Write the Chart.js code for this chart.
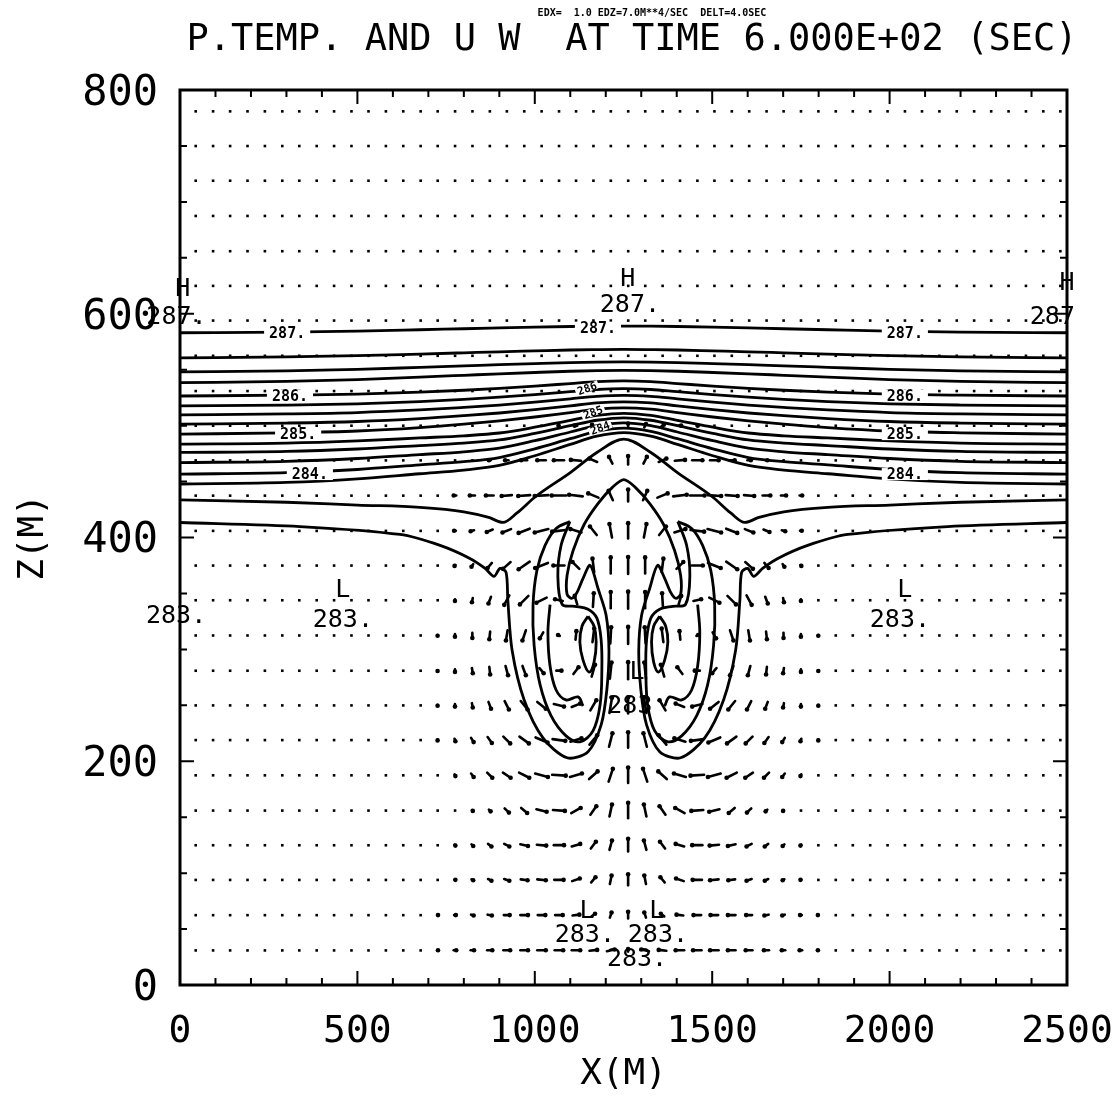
<!DOCTYPE html>
<html>
<head>
<meta charset="utf-8">
<script src="https://cdn.jsdelivr.net/npm/chart.js@4.4.1/dist/chart.umd.min.js"></script>
<style>
  html, body { margin: 0; padding: 0; background: #fff; }
  canvas { display: block; }
</style>
</head>
<body>
<canvas id="plot" width="1118" height="1102"></canvas>
<script>
// ---- AXES / TICKS ----
const xTicks = [0, 500, 1000, 1500, 2000, 2500];
const zTicks = [0, 200, 400, 600, 800];
const xMinorTicks = [100,200,300,400,600,700,800,900,1100,1200,1300,1400,1600,1700,1800,1900,2100,2200,2300,2400];
const zMinorTicks = [50,100,150,250,300,350,450,500,550,650,700,750];

// ---- VELOCITY GRID (U, W) ----
const xGrid = [44,93,141,190,239,288,336,385,434,483,531,580,629,678,726,775,824,873,921,970,1019,1068,1116,1165,1214,1263,1311,1360,1409,1458,1506,1555,1604,1653,1701,1750,1799,1848,1896,1945,1994,2043,2091,2140,2189,2238,2286,2335,2384,2433,2481];
const zGrid = [31,62.5,94,125,156,187.5,219,250,281,312.5,344,375,406,437.5,469,500,531,562.5,594,625,656,687.5,719,750,781];
// arrows read for columns 678..1848, rows 31..500
const arrowX = [678,726,775,824,873,921,970,1019,1068,1116,1165,1214,1263,1311,1360,1409,1458,1506,1555,1604,1653,1701,1750,1799,1848];
const arrowZ = [31,62.5,94,125,156,187.5,219,250,281,312.5,344,375,406,437.5,469,500];
const uRows = [
  [0,0.1,0.3,0.4,0.6,0.8,0.9,1,1,1,0.9,0.9,0,-0.9,-0.9,-1,-1,-1,-0.9,-0.8,-0.6,-0.4,-0.3,-0.1,0],
  [0,0.1,0.2,0.3,0.5,0.7,0.9,0.9,0.9,0.8,0.4,0.2,0,-0.2,-0.4,-0.8,-0.9,-0.9,-0.9,-0.7,-0.5,-0.3,-0.2,-0.1,0],
  [0,0,0.1,0.2,0.4,0.6,0.8,1,1.1,0.9,0.5,0.2,0,-0.2,-0.5,-0.9,-1.1,-1,-0.8,-0.6,-0.4,-0.2,-0.1,0,0],
  [0,0,0.1,0.2,0.4,0.6,0.9,1.1,1.2,1,0.6,0.3,0,-0.3,-0.6,-1,-1.2,-1.1,-0.9,-0.6,-0.4,-0.2,-0.1,0,0],
  [0,0,0,0.1,0.2,0.5,0.7,1.2,1.4,1.1,0.7,0.3,0,-0.3,-0.7,-1.1,-1.4,-1.2,-0.7,-0.5,-0.2,-0.1,0,0,0],
  [0,0,0.1,0.3,0.6,0.9,1.2,1.5,1.6,1.4,1,0.5,0,-0.5,-1,-1.4,-1.6,-1.5,-1.2,-0.9,-0.6,-0.3,-0.1,0,0],
  [0,0,0.1,0.3,0.5,0.8,1.1,1.4,1.5,1.3,0.9,0.4,0,-0.4,-0.9,-1.3,-1.5,-1.4,-1.1,-0.8,-0.5,-0.3,-0.1,0,0],
  [0,0,0,0.1,0.3,0.5,0.8,1,1.2,1,0.7,0.3,0,-0.3,-0.7,-1,-1.2,-1,-0.8,-0.5,-0.3,-0.1,0,0,0],
  [0,0,0,0.1,0.1,0.3,0.4,0.5,0.6,0.6,0.4,0.2,0,-0.2,-0.4,-0.6,-0.6,-0.5,-0.4,-0.3,-0.1,-0.1,0,0,0],
  [0,0,0,0,-0.1,-0.2,-0.4,-0.4,-0.2,0.1,0.2,0.1,0,-0.1,-0.2,-0.1,0.2,0.4,0.4,0.2,0.1,0,0,0,0],
  [0,0,0,-0.1,-0.3,-0.6,-1,-1.2,-0.9,-0.3,0.1,0,0,0,-0.1,0.3,0.9,1.2,1,0.6,0.3,0.1,0,0,0],
  [0,0,-0.1,-0.2,-0.5,-0.9,-1.3,-1.5,-1.3,-0.8,-0.2,0,0,0,0.2,0.8,1.3,1.5,1.3,0.9,0.5,0.2,0.1,0,0],
  [0,0,-0.2,-0.4,-0.7,-1,-1.3,-1.6,-1.6,-1.3,-0.8,-0.3,0,0.3,0.8,1.3,1.6,1.6,1.3,1,0.7,0.4,0.2,0,0],
  [0,0,-0.3,-0.6,-0.9,-1.2,-1.4,-1.6,-1.7,-1.6,-1.2,-0.5,0,0.5,1.2,1.6,1.7,1.6,1.4,1.2,0.9,0.6,0.3,0,0],
  [0,0,0,0,-0.2,-0.4,-0.7,-1,-1.2,-1.2,-0.9,-0.4,0,0.4,0.9,1.2,1.2,1,0.7,0.4,0.2,0,0,0,0],
  [0,0,0,0,0,0,0,0,-0.1,-0.3,-0.3,-0.2,0,0.2,0.3,0.3,0.1,0,0,0,0,0,0,0,0]
];
const wRows = [
  [0,0,0,0,0,0,0,0,0,0,0.1,0.2,0.3,0.2,0.1,0,0,0,0,0,0,0,0,0,0],
  [0,0,0,-0.1,-0.1,0,0,0,0,0.1,0.3,0.6,0.8,0.6,0.3,0.1,0,0,0,0,-0.1,-0.1,0,0,0],
  [0,0,0,-0.1,-0.2,-0.2,-0.1,-0.1,0,0.3,0.6,1,1.3,1,0.6,0.3,0,-0.1,-0.1,-0.2,-0.2,-0.1,0,0,0],
  [0,0,-0.1,-0.2,-0.3,-0.3,-0.2,-0.1,0,0.3,0.8,1.1,1.5,1.1,0.8,0.3,0,-0.1,-0.2,-0.3,-0.3,-0.2,-0.1,0,0],
  [0,0,0,-0.1,-0.2,-0.5,-0.6,-0.3,-0.1,0.6,1,1.4,1.8,1.4,1,0.6,-0.1,-0.3,-0.6,-0.5,-0.2,-0.1,0,0,0],
  [0,0,-0.2,-0.4,-0.6,-0.6,-0.6,-0.4,-0.1,0.4,0.9,1.5,1.8,1.5,0.9,0.4,-0.1,-0.4,-0.6,-0.6,-0.6,-0.4,-0.2,0,0],
  [0,-0.1,-0.3,-0.5,-0.7,-0.8,-0.8,-0.6,-0.2,0.4,1.1,1.6,1.8,1.6,1.1,0.4,-0.2,-0.6,-0.8,-0.8,-0.7,-0.5,-0.3,-0.1,0],
  [0,-0.1,-0.3,-0.5,-0.8,-1,-1,-0.8,-0.3,0.4,1.2,1.8,1.9,1.8,1.2,0.4,-0.3,-0.8,-1,-1,-0.8,-0.5,-0.3,-0.1,0],
  [0,-0.1,-0.3,-0.6,-0.9,-1.1,-1.1,-0.6,0,0.8,1.4,1.9,2,1.9,1.4,0.8,0,-0.6,-1.1,-1.1,-0.9,-0.6,-0.3,-0.1,0],
  [0,-0.1,-0.3,-0.6,-0.9,-1.2,-1.2,-0.7,0.1,1,1.6,1.9,2,1.9,1.6,1,0.1,-0.7,-1.2,-1.2,-0.9,-0.6,-0.3,-0.1,0],
  [0,0,-0.2,-0.5,-0.8,-1.1,-1,-0.6,0.2,1,1.6,1.9,2,1.9,1.6,1,0.2,-0.6,-1,-1.1,-0.8,-0.5,-0.2,0,0],
  [0,0,-0.1,-0.3,-0.6,-0.8,-0.9,-0.6,0,0.8,1.6,1.9,2,1.9,1.6,0.8,0,-0.6,-0.9,-0.8,-0.6,-0.3,-0.1,0,0],
  [0,0,0,-0.1,-0.3,-0.4,-0.5,-0.4,-0.2,0.4,1,1.6,1.8,1.6,1,0.4,-0.2,-0.4,-0.5,-0.4,-0.3,-0.1,0,0,0],
  [0,0,0,0,0,-0.1,-0.1,-0.1,0,0.2,0.5,1.1,1.4,1.1,0.5,0.2,0,-0.1,-0.1,-0.1,0,0,0,0,0],
  [0,0,0,0,0,0,0,0,0,0.1,0.4,0.8,1,0.8,0.4,0.1,0,0,0,0,0,0,0,0,0],
  [0,0,0,0,0,0,0,0,0,0,0.2,0.4,0.5,0.4,0.2,0,0,0,0,0,0,0,0,0,0]
];

// ---- POTENTIAL TEMPERATURE CONTOURS ----
const lineX = [0,300,500,676,800,900,1000,1100,1175,1251,1327,1402,1502,1602,1702,1826,2000,2200,2500];
const levels = [287,286.75,286.5,286.25,286,285.75,285.5,285.25,285,284.75,284.5,284.25,284,283.75];
const levelZ = [
  [583,583.6,584.5,585.7,586.6,587.3,588,588.6,588.9,589,588.9,588.6,588,587.3,586.6,585.7,584.5,583.6,583],
  [560.6,561.4,562.5,564,565.1,566,566.8,567.6,567.9,568.1,567.9,567.6,566.8,566,565.1,564,562.5,561.4,560.6],
  [548,548.9,550.3,552.1,553.4,554.5,555.5,556.4,556.8,557,556.8,556.4,555.5,554.5,553.4,552.1,550.3,548.9,548],
  [538.4,539.5,541.2,543.4,545,546.3,547.5,548.6,549.2,549.4,549.2,548.6,547.5,546.3,545,543.4,541.2,539.5,538.4],
  [526.5,527.2,528.1,529.9,531.6,533.3,535.3,537.6,539.3,540,539.3,537.6,535.3,533.3,531.6,529.9,528.1,527.2,526.5],
  [517.6,518.4,519.5,521.5,523.5,525.4,527.7,530.3,532.3,533.1,532.3,530.3,527.7,525.4,523.5,521.5,519.5,518.4,517.6],
  [509.6,510.5,511.7,514,516.3,518.4,521,524,526.2,527.1,526.2,524,521,518.4,516.3,514,511.7,510.5,509.6],
  [501.3,502.3,503.7,506.3,508.9,511.3,514.3,517.7,520.3,521.3,520.3,517.7,514.3,511.3,508.9,506.3,503.7,502.3,501.3],
  [492.4,493.6,495.2,498.3,501.3,504.2,507.7,511.7,514.7,515.9,514.7,511.7,507.7,504.2,501.3,498.3,495.2,493.6,492.4],
  [483.5,484.3,486.3,489,490.9,493.4,498.6,504.7,509.1,511,509.1,504.7,498.6,493.4,490.9,489,486.3,484.3,483.5],
  [476,476.9,479.1,482.2,484.4,487.2,493.1,499.9,504.8,507,504.8,499.9,493.1,487.2,484.4,482.2,479.1,476.9,476],
  [467,468.1,470.6,474.1,476.6,479.8,486.5,494.3,500,502.5,500,494.3,486.5,479.8,476.6,474.1,470.6,468.1,467],
  [456.7,457.9,460.8,464.9,467.8,471.5,479.3,488.3,494.8,497.7,494.8,488.3,479.3,471.5,467.8,464.9,460.8,457.9,456.7],
  [447.8,449.2,452.4,457,460.2,464.4,473.1,483.2,490.6,493.8,490.6,483.2,473.1,464.4,460.2,457,452.4,449.2,447.8]
];
// 283.5 line with the two notches
const notchX = [0,300,500,676,800,870,910,950,1000,1100,1175,1251,1327,1402,1502,1552,1592,1632,1702,1826,2000,2200,2500];
const notchZ = [433.6,431.5,429,427,423,418,413.5,422,436,458,476,488,476,458,436,422,413.5,418,423,427,429,431.5,433.6];
// 283.25 line: edge, around both rings and over the plume top
const plumeX = [0,338,620,733,817,860,885,902,919,924,936,970,1023,1091,1150,1187,1203,1209,1201,1178,1156,1136,1119,1105,1091,1091,1108,1139,1178,1218,1251,1284,1324,1363,1394,1411,1411,1397,1383,1366,1346,1324,1301,1293,1299,1315,1352,1411,1479,1532,1566,1578,1583,1600,1617,1642,1685,1769,1882,2164,2500];
const plumeZ = [413.4,409.8,402.7,392.9,381.3,372.4,365.3,372.4,368.8,343.9,299.3,254.8,220.9,203.1,208.5,232.5,263.7,299.3,330.5,354.6,375.1,363.5,351,345.7,349.2,366.2,388.4,411.6,430.3,444.6,451.7,444.6,430.3,411.6,388.4,366.2,349.2,345.7,351,363.5,375.1,354.6,330.5,299.3,263.7,232.5,208.5,203.1,220.9,254.8,299.3,343.9,368.8,372.4,365.3,372.4,381.3,392.9,402.7,409.8,413.4];
// rings inside the two eddies
const ringLX = [1099,1060,1029,1006,995,998,1015,1046,1088,1127,1164,1184,1189,1187,1175,1150,1113,1077,1065,1074,1099];
const ringRX = [1403,1442,1473,1496,1507,1504,1487,1456,1414,1375,1338,1318,1313,1315,1327,1352,1389,1425,1437,1428,1403];
const ringZ = [414.3,408,392.9,370.6,339.4,303.8,268.2,240.5,222.7,217.4,227.2,250.3,281.5,308.3,327.9,335.9,338.5,340.3,366.2,392.9,414.3];
const hookLX = [1136,1122,1088,1060,1043,1037,1043];
const hookRX = [1366,1380,1414,1442,1459,1465,1459];
const hookZ = [249.4,257.5,254.8,263.7,285.1,315.4,340];
const lensLX = [1150,1133,1127,1136,1153,1167,1173,1167,1150];
const lensRX = [1352,1369,1375,1366,1349,1335,1329,1335,1352];
const lensZ = [329.6,320.7,306.5,290.4,279.7,288.6,306.5,320.7,329.6];

// ---- LABELS ----
const lineLabelText = ['287.','287.','287.','286.','286.','285.','285.','284.','284.'];
const lineLabelX = [302,1178,2043,310,2043,333,2043,366,2043];
const lineLabelZ = [583,587.5,583,526.5,526.5,492.4,492.4,456.7,456.7];
const slopeLabelText = ['286','285','284'];
const slopeLabelX = [1147,1164,1184];
const slopeLabelZ = [533.5,512,498];
const markText = ['H','287.','H','287.','H','287.','L','283.','L','283.','283.','L','283','L','L','283.','283.','283.'];
const markX = [1262,1268,8,-10,2500,2480,459,459,2043,2029,-11,1288,1268,1147,1344,1141,1347,1288];
const markZ = [631,607,622,597,627,597,353,326,353,326,329,279,249,66,66,44,44,23];

const MONO = '"DejaVu Sans Mono", monospace';

function pts(xs, zs) {
  return xs.map((x, i) => ({ x: x, y: zs[i] }));
}
function contour(data, mono, tension) {
  return {
    data: data,
    showLine: true,
    borderColor: '#000',
    borderWidth: 2.8,
    pointRadius: 0,
    fill: false,
    tension: tension,
    cubicInterpolationMode: mono ? 'monotone' : 'default'
  };
}

const datasets = [];
levelZ.forEach(zs => datasets.push(contour(pts(lineX, zs), true, 0)));
datasets.push(contour(pts(notchX, notchZ), true, 0));
datasets.push(contour(pts(plumeX, plumeZ), false, 0.3));
datasets.push(contour(pts(ringLX, ringZ), false, 0.35));
datasets.push(contour(pts(ringRX, ringZ), false, 0.35));
datasets.push(contour(pts(hookLX, hookZ), false, 0.35));
datasets.push(contour(pts(hookRX, hookZ), false, 0.35));
datasets.push(contour(pts(lensLX, lensZ), false, 0.4));
datasets.push(contour(pts(lensRX, lensZ), false, 0.4));

// vectors and grid dots, under the contours
const vectorPlugin = {
  id: 'vectors',
  beforeDatasetsDraw(chart) {
    const { ctx, scales: { x, y } } = chart;
    const S = 8.5;
    ctx.save();
    ctx.fillStyle = '#000';
    ctx.strokeStyle = '#000';
    ctx.lineWidth = 2.6;
    ctx.lineCap = 'round';
    zGrid.forEach(zv => {
      xGrid.forEach(xv => {
        const px = x.getPixelForValue(xv);
        const py = y.getPixelForValue(zv);
        const r = arrowZ.indexOf(zv);
        const c = arrowX.indexOf(xv);
        let u = 0, w = 0;
        if (r >= 0 && c >= 0) { u = uRows[r][c]; w = wRows[r][c]; }
        if (u === 0 && w === 0) {
          ctx.fillRect(px - 1.2, py - 1.2, 2.6, 2.6);
          return;
        }
        const dx = u * S, dy = -w * S;
        ctx.beginPath();
        ctx.moveTo(px - dx / 2, py - dy / 2);
        ctx.lineTo(px + dx / 2, py + dy / 2);
        ctx.stroke();
        ctx.beginPath();
        ctx.arc(px + dx / 2, py + dy / 2, 2.3, 0, Math.PI * 2);
        ctx.fill();
      });
    });
    ctx.restore();
  },
  afterDatasetsDraw(chart) {
    const { ctx, chartArea: a, scales: { x, y } } = chart;
    ctx.save();
    // inline contour labels
    ctx.font = 'bold 15px ' + MONO;
    ctx.textAlign = 'center';
    ctx.textBaseline = 'middle';
    lineLabelText.forEach((t, i) => {
      const px = x.getPixelForValue(lineLabelX[i]);
      const py = y.getPixelForValue(lineLabelZ[i]);
      const w = ctx.measureText(t).width + 10;
      ctx.fillStyle = '#fff';
      ctx.fillRect(px - w / 2, py - 6, w, 12);
      ctx.fillStyle = '#000';
      ctx.fillText(t, px, py + 1);
    });
    ctx.font = 'bold 11px ' + MONO;
    slopeLabelText.forEach((t, i) => {
      ctx.save();
      ctx.translate(x.getPixelForValue(slopeLabelX[i]), y.getPixelForValue(slopeLabelZ[i]));
      ctx.rotate(-0.35);
      ctx.fillStyle = '#fff';
      ctx.fillRect(-12, -4, 24, 8);
      ctx.fillStyle = '#000';
      ctx.fillText(t, 0, 1);
      ctx.restore();
    });
    // H / L marks
    ctx.beginPath();
    ctx.rect(0, 0, a.right + 6, chart.height);
    ctx.clip();
    ctx.font = '25px ' + MONO;
    ctx.fillStyle = '#000';
    markText.forEach((t, i) => {
      ctx.fillText(t, x.getPixelForValue(markX[i]), y.getPixelForValue(markZ[i]));
    });
    ctx.restore();

    // frame and inner ticks
    ctx.save();
    ctx.strokeStyle = '#000';
    ctx.lineWidth = 3;
    ctx.strokeRect(a.left, a.top, a.right - a.left, a.bottom - a.top);
    ctx.lineWidth = 2;
    ctx.beginPath();
    const tx = (v, len) => {
      const px = x.getPixelForValue(v);
      ctx.moveTo(px, a.bottom); ctx.lineTo(px, a.bottom - len);
      ctx.moveTo(px, a.top); ctx.lineTo(px, a.top + len);
    };
    const tz = (v, len) => {
      const py = y.getPixelForValue(v);
      ctx.moveTo(a.left, py); ctx.lineTo(a.left + len, py);
      ctx.moveTo(a.right, py); ctx.lineTo(a.right - len, py);
    };
    xMinorTicks.forEach(v => tx(v, 7));
    xTicks.forEach(v => tx(v, 14));
    zMinorTicks.forEach(v => tz(v, 7));
    zTicks.forEach(v => tz(v, 14));
    ctx.stroke();
    ctx.restore();
  },
  afterDraw(chart) {
    const { ctx } = chart;
    ctx.save();
    ctx.fillStyle = '#000';
    ctx.textAlign = 'center';
    ctx.textBaseline = 'middle';
    ctx.font = 'bold 10px ' + MONO;
    ctx.fillText('EDX=  1.0 EDZ=7.0M**4/SEC  DELT=4.0SEC', 652, 13);
    ctx.font = '37px ' + MONO;
    ctx.fillText('P.TEMP. AND U W  AT TIME 6.000E+02 (SEC)', 632, 40);
    ctx.restore();
  }
};

new Chart(document.getElementById('plot'), {
  type: 'scatter',
  data: { datasets: datasets },
  options: {
    responsive: false,
    animation: false,
    devicePixelRatio: 1,
    layout: { padding: { left: 0, right: 51, top: 90, bottom: 0 } },
    plugins: { legend: { display: false }, tooltip: { enabled: false } },
    scales: {
      x: {
        type: 'linear', min: 0, max: 2500,
        afterBuildTicks: s => { s.ticks = xTicks.map(v => ({ value: v })); },
        afterFit: s => { s.height = 117; s.paddingLeft = 0; s.paddingRight = 0; },
        grid: { display: false, drawTicks: false },
        border: { display: false },
        ticks: { color: '#000', padding: 24, maxRotation: 0, font: { family: MONO, size: 38 }, callback: v => String(v) },
        title: { display: true, text: 'X(M)', color: '#000', font: { family: MONO, size: 36 }, padding: { top: 0, bottom: 6 } }
      },
      y: {
        type: 'linear', min: 0, max: 800,
        afterBuildTicks: s => { s.ticks = zTicks.map(v => ({ value: v })); },
        afterFit: s => { s.width = 180; s.paddingTop = 0; s.paddingBottom = 0; },
        grid: { display: false, drawTicks: false },
        border: { display: false },
        ticks: { color: '#000', padding: 22, labelOffset: 4, font: { family: MONO, size: 42 }, callback: v => String(v) },
        title: { display: true, text: 'Z(M)', color: '#000', font: { family: MONO, size: 36 }, padding: { top: 12, bottom: 0 } }
      }
    }
  },
  plugins: [vectorPlugin]
});
</script>
</body>
</html>
